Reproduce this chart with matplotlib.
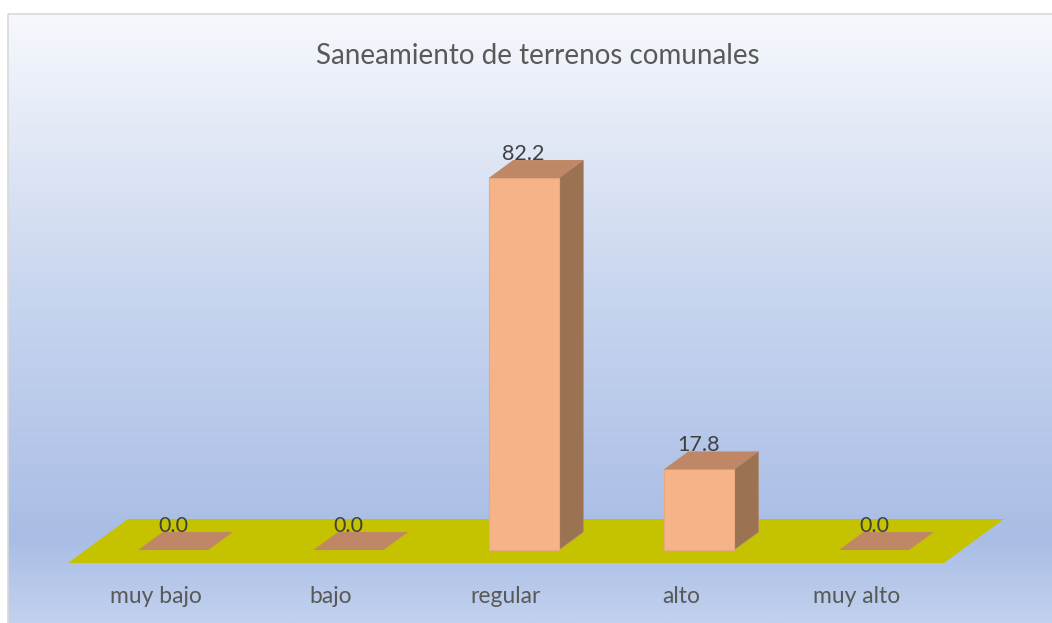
import numpy as np
import matplotlib.pyplot as plt
from matplotlib.patches import Polygon, Rectangle
from matplotlib.colors import LinearSegmentedColormap

categories = ["muy bajo", "bajo", "regular", "alto", "muy alto"]
values = [0.0, 0.0, 82.2, 17.8, 0.0]
title = "Saneamiento de terrenos comunales"

# oblique 3d look: depth offset in data units
depth_dx = 0.342
depth_dy = 9.72
bar_w = 0.40
z0, z1 = 0.295, 0.705  # bar front / back as depth fraction

front_c = "#f5b387"
side_c = "#9c7352"
top_c = "#bf8766"
floor_c = "#c5c200"

fig = plt.figure(figsize=(10.52, 6.23), dpi=100)

# background gradient
bg = fig.add_axes([0, 0, 1, 1])
cmap = LinearSegmentedColormap.from_list(
    "bg", [(0, "#f6f8fc"), (0.45, "#c9d6ef"), (0.86, "#a9bde5"), (1, "#c2d1ee")])
grad = np.linspace(0, 1, 256).reshape(-1, 1)
bg.imshow(grad, aspect="auto", cmap=cmap, extent=[8, 1060, 623, 14])
bg.add_patch(Rectangle((8, 14), 1060, 620, fill=False, ec="#d9d9d9", lw=1.2))
bg.set_xlim(0, 1052)
bg.set_ylim(623, 0)
bg.axis("off")

ax = fig.add_axes([0, 0, 1, 1])
ax.patch.set_alpha(0)
ax.set_xlim(-68 / 175.2, (1052 - 68) / 175.2)
ax.set_ylim((563 - 623) / 4.525, 563 / 4.525)
ax.axis("off")


def P(x, y, z):
    return (x + z * depth_dx, y + z * depth_dy)


n = len(categories)
ax.add_patch(Polygon([P(0, 0, 0), P(n, 0, 0), P(n, 0, 1), P(0, 0, 1)],
                     closed=True, fc=floor_c, ec="none"))

for i, v in enumerate(values):
    xl = i + 0.5 - bar_w / 2
    xr = i + 0.5 + bar_w / 2
    if v > 0:
        ax.add_patch(Polygon([P(xr, 0, z0), P(xr, 0, z1), P(xr, v, z1), P(xr, v, z0)],
                             closed=True, fc=side_c, ec="#b08a70", lw=0.5))
        ax.add_patch(Polygon([P(xl, 0, z0), P(xr, 0, z0), P(xr, v, z0), P(xl, v, z0)],
                             closed=True, fc=front_c, ec="#e8a880", lw=0.8))
    ax.add_patch(Polygon([P(xl, v, z0), P(xr, v, z0), P(xr, v, z1), P(xl, v, z1)],
                         closed=True, fc=top_c, ec="none"))
    lx, ly = P(i + 0.5, v, z1)
    ax.text(i + 0.5 + z0 * depth_dx, ly - 0.8, f"{v:.1f}", ha="center", va="bottom",
            fontsize=15.5, color="#404040", family="Lato")
    ax.text(i + 0.5, -7.3, categories[i], ha="center", va="center",
            fontsize=16.5, color="#595959", family="Lato")

fig.text(538 / 1052, 1 - 56 / 623, title, ha="center", va="center",
         fontsize=20, color="#595959", family="Lato")

fig.savefig("out.png", dpi=100)
